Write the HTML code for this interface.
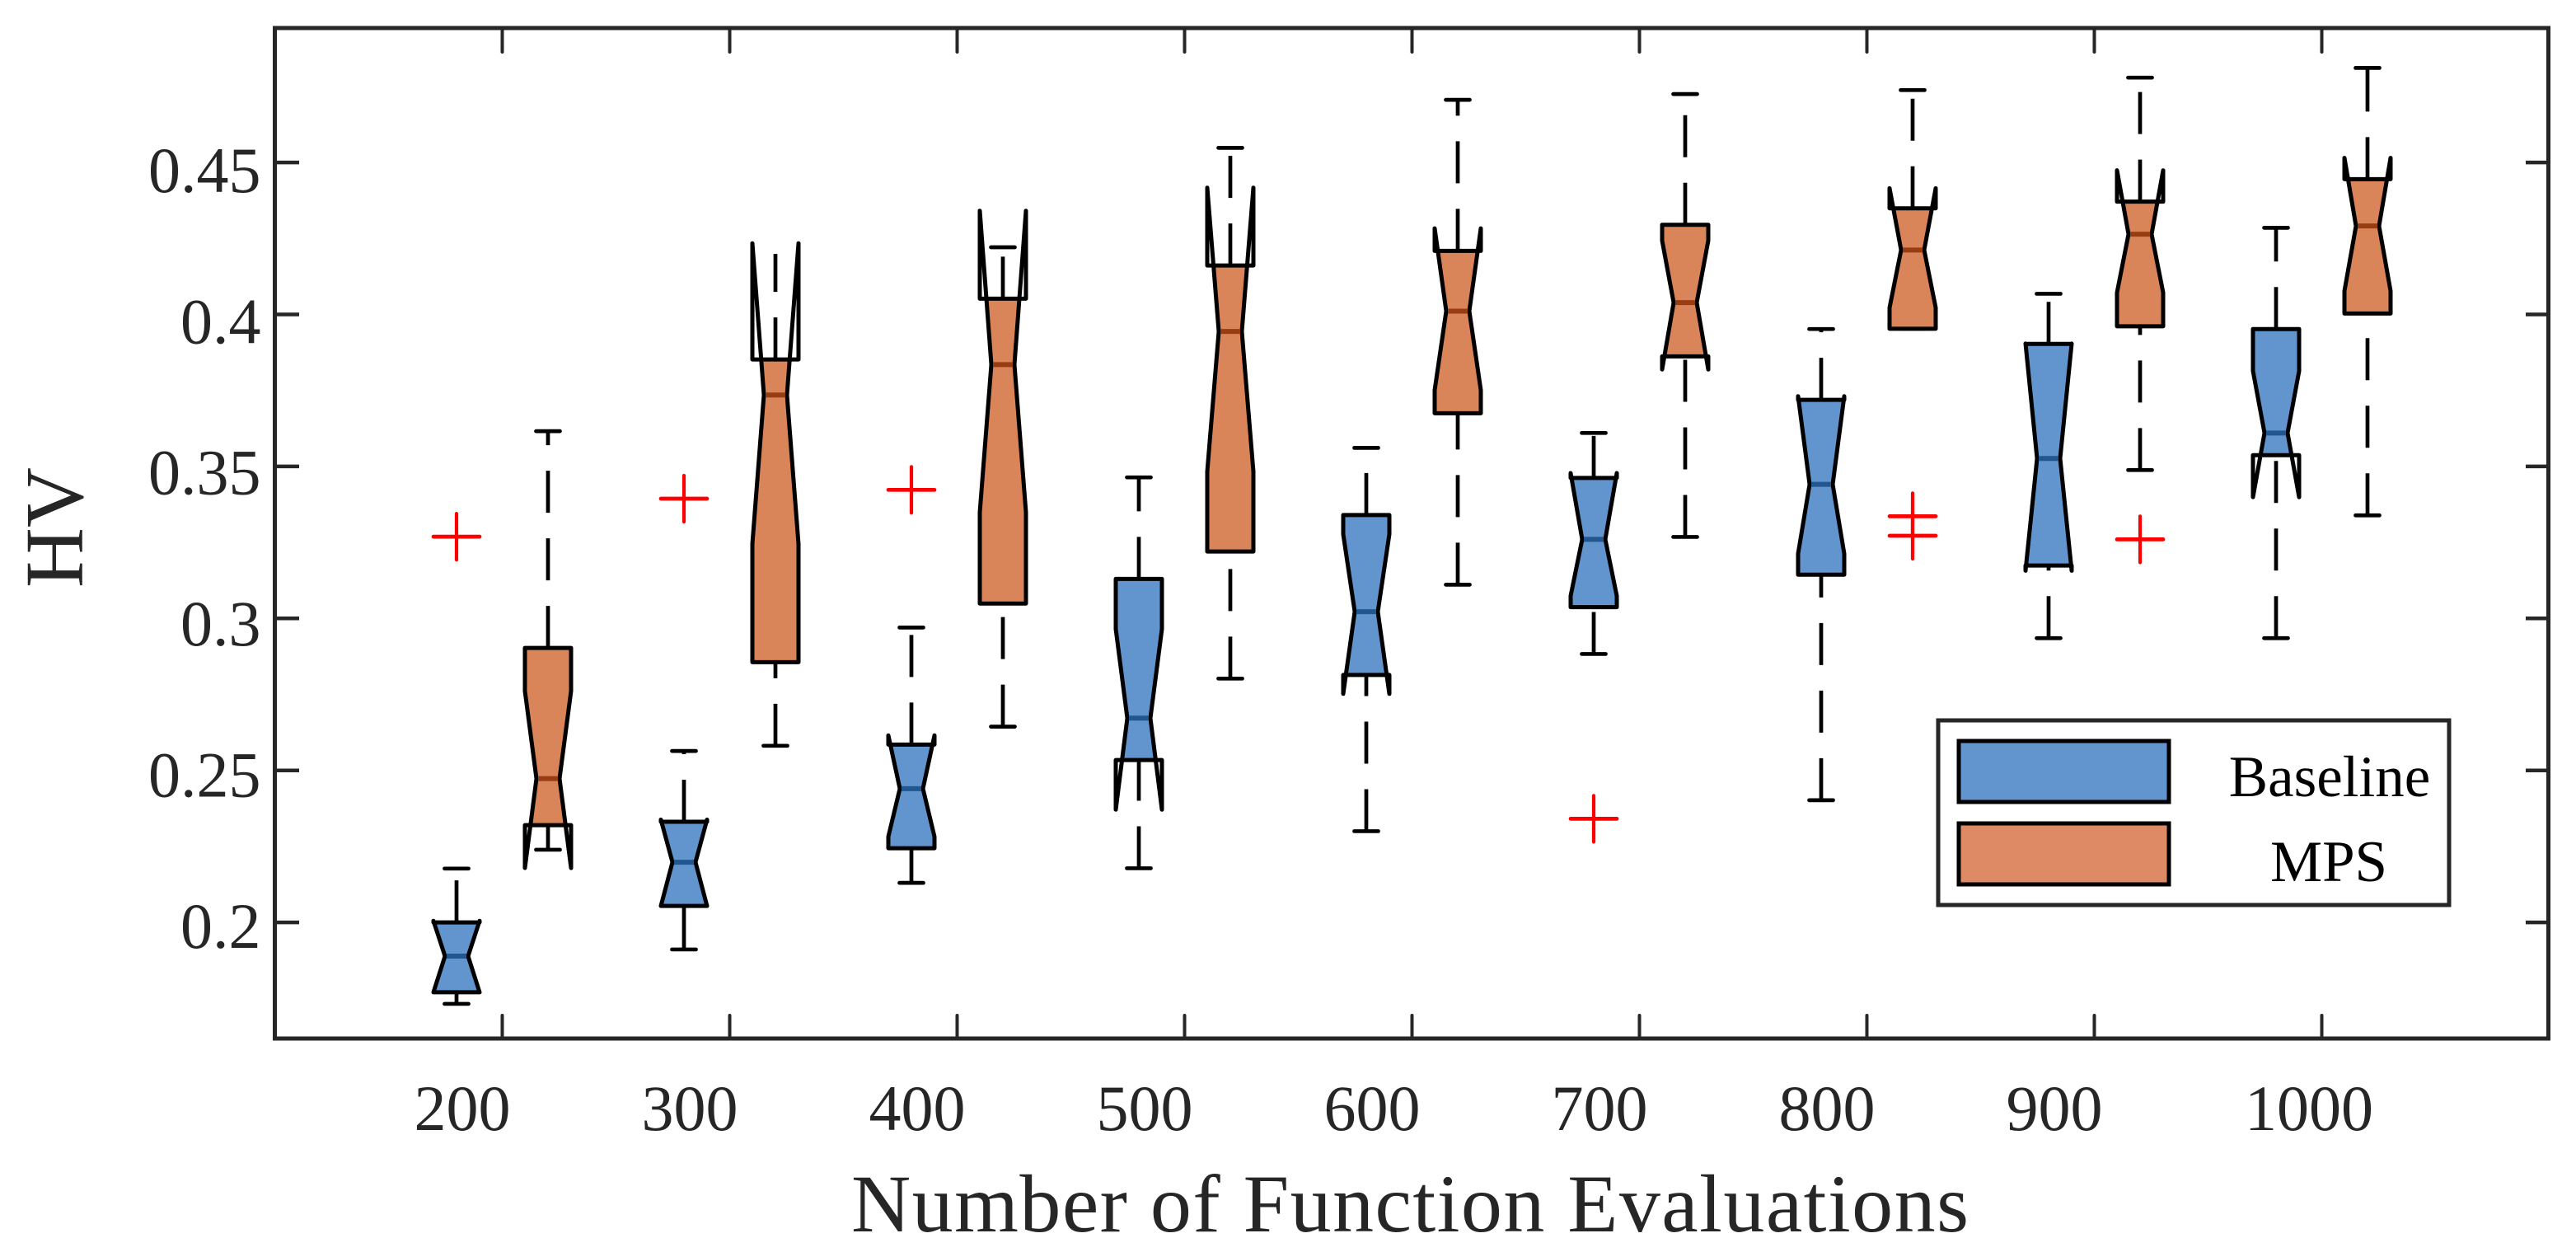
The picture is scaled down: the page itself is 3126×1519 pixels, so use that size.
<!DOCTYPE html>
<html lang="en">
<head>
<meta charset="utf-8">
<title>HV vs Number of Function Evaluations</title>
<style>
html,body{margin:0;padding:0;background:#fff;}
svg{display:block;}
text{font-family:"Liberation Serif",serif;}
</style>
</head>
<body>
<svg id="chart" xmlns="http://www.w3.org/2000/svg" width="3126" height="1519" viewBox="0 0 3126 1519">
  <rect x="0" y="0" width="3126" height="1519" fill="#fff"/>
  <g id="ticks"></g>
  <g id="marks"></g>
  <rect x="333.5" y="34" width="2759" height="1226" fill="none" stroke="#262626" stroke-width="5"/>
  <g id="labels"></g>
  <text transform="translate(100,640) rotate(-90)" text-anchor="middle" font-size="101" fill="#262626">HV</text>
  <text x="1033" y="1494" font-size="100" fill="#262626" textLength="1356" lengthAdjust="spacing">Number of Function Evaluations</text>
  <g>
    <rect x="2352" y="874" width="620" height="224" fill="#fff" stroke="#262626" stroke-width="5"/>
    <rect x="2377" y="899" width="255" height="74" fill="#6295cd" stroke="#000" stroke-width="5"/>
    <rect x="2377" y="999" width="255" height="74" fill="#dd8a65" stroke="#000" stroke-width="5"/>
    <text x="2827" y="966" text-anchor="middle" font-size="71" fill="#000">Baseline</text>
    <text x="2826" y="1069" text-anchor="middle" font-size="71" fill="#000">MPS</text>
  </g>
</svg>
<script>
// ---- data ----
const categories = ["200","300","400","500","600","700","800","900","1000"];
const yTickLabels = ["0.2","0.25","0.3","0.35","0.4","0.45"];
const yTickValues = [0.2,0.25,0.3,0.35,0.4,0.45];

const baselineWhiskerHigh = [0.2177,0.2564,0.2970,0.3464,0.3561,0.3610,0.3952,0.4068,0.4285];
const baselineQ3          = [0.2000,0.2331,0.2585,0.3130,0.3340,0.3462,0.3719,0.3903,0.3952];
const baselineNotchHigh   = [0.2005,0.2338,0.2615,0.2965,0.3277,0.3478,0.3731,0.3904,0.3814];
const baselineMedian      = [0.1889,0.2198,0.2440,0.2672,0.3022,0.3260,0.3441,0.3526,0.3610];
const baselineNotchLow    = [0.1770,0.2054,0.2282,0.2371,0.2752,0.3074,0.3213,0.3157,0.3399];
const baselineQ1          = [0.1770,0.2054,0.2244,0.2534,0.2814,0.3037,0.3144,0.3174,0.3537];
const baselineWhiskerLow  = [0.1732,0.1911,0.2130,0.2178,0.2300,0.2883,0.2402,0.2935,0.2935];
const baselineOutliers    = [[0.3269],[0.3394],[0.3423],[],[],[0.2341],[],[],[]];

const mpsWhiskerHigh = [0.3616,0.4199,0.4221,0.4548,0.4706,0.4725,0.4738,0.4779,0.4811];
const mpsQ3          = [0.2903,0.3852,0.4052,0.4161,0.4209,0.4295,0.4349,0.4371,0.4445];
const mpsNotchHigh   = [0.2761,0.4234,0.4341,0.4417,0.4283,0.4243,0.4415,0.4474,0.4515];
const mpsMedian      = [0.2473,0.3735,0.3835,0.3944,0.4011,0.4039,0.4212,0.4264,0.4291];
const mpsNotchLow    = [0.2179,0.3245,0.3349,0.3483,0.3751,0.3819,0.4022,0.4072,0.4077];
const mpsQ1          = [0.2320,0.2856,0.3049,0.3220,0.3675,0.3862,0.3953,0.3961,0.4003];
const mpsWhiskerLow  = [0.2239,0.2581,0.2644,0.2802,0.3111,0.3268,0.3953,0.3488,0.3339];
const mpsOutliers    = [[],[],[],[],[],[],[0.3336,0.3272],[0.3260],[]];
const mpsCapHidden   = [false,true,false,false,false,false,false,false,false];

// ---- axis functions ----
function yScale(v){ return 381.5 + (0.4 - v) * 3688; }
function xCenter(i){ return 609.5 + 276 * i; }
function xBaseline(i){ return xCenter(i) - 55.5; }
function xMps(i){ return xCenter(i) + 55.5; }

const NS = "http://www.w3.org/2000/svg";
function make(tag, attrs, parent){
  const el = document.createElementNS(NS, tag);
  for (const k in attrs) el.setAttribute(k, attrs[k]);
  parent.appendChild(el);
  return el;
}
const ticksG = document.getElementById("ticks");
const labelsG = document.getElementById("labels");
const marksG = document.getElementById("marks");
const TICK_COLOR = "#262626";

// x ticks: bottom and top, between the two boxes of each group
categories.forEach(function(cat, i){
  const x = xCenter(i);
  const bottom = make("line", {x1:x, x2:x, y1:1260, y2:1232, stroke:TICK_COLOR, "stroke-width":4, "stroke-linecap":"round"}, ticksG);
  
  
  const top = make("line", {x1:x, x2:x, y1:34, y2:63, stroke:TICK_COLOR, "stroke-width":4, "stroke-linecap":"round"}, ticksG);
  
  
  const lx = xBaseline(i) + (i === categories.length - 1 ? 40 : 7);
  const t = make("text", {x:lx, y:1371, "text-anchor":"middle", "font-size":78, fill:TICK_COLOR}, labelsG);
  t.textContent = cat;
  
  
});

// y ticks: left and right
yTickValues.forEach(function(v, i){
  const y = yScale(v);
  const left = make("line", {x1:333, x2:363, y1:y, y2:y, stroke:TICK_COLOR, "stroke-width":4.5}, ticksG);
  
  
  const right = make("line", {x1:3092, x2:3065, y1:y, y2:y, stroke:TICK_COLOR, "stroke-width":4.5}, ticksG);
  
  
  const t = make("text", {x:316.5, y:416.3 + (0.4 - v) * 3668, "text-anchor":"end", "font-size":78, fill:TICK_COLOR}, labelsG);
  t.textContent = yTickLabels[i];
  
  
});

const HALF_W = 28, HALF_N = 14, HALF_CAP = 14.5, OUT = 28;

function halfWidthAt(y, yNH, yMed, yNL){
  if (y <= yNH || y >= yNL) return HALF_W;
  if (y <= yMed) return HALF_W + (HALF_N - HALF_W) * (y - yNH) / (yMed - yNH);
  return HALF_N + (HALF_W - HALF_N) * (y - yMed) / (yNL - yMed);
}

function drawBox(x, q1, q3, med, nLo, nHi, wLo, wHi, fill, medColor, capHidden, groupName){
  const g = make("g", {}, marksG);
  
  
  const yQ1 = yScale(q1), yQ3 = yScale(q3), yMed = yScale(med);
  const yNL = yScale(nLo), yNH = yScale(nHi), yLo = yScale(wLo), yHi = yScale(wHi);

  // whiskers (dash pattern starts at the lower end of each segment)
  const up = make("line", {x1:x, x2:x, y1:yQ3, y2:yHi, stroke:"#000", "stroke-width":4.7, "stroke-dasharray":"51 31"}, g);
  
  
  const down = make("line", {x1:x, x2:x, y1:yLo, y2:yQ1, stroke:"#000", "stroke-width":4.7, "stroke-dasharray":"51 31"}, g);
  
  
  if (!capHidden){
    const capU = make("line", {x1:x-HALF_CAP, x2:x+HALF_CAP, y1:yHi, y2:yHi, stroke:"#000", "stroke-width":4.7, "stroke-linecap":"round"}, g);
    
    
  }
  const capL = make("line", {x1:x-HALF_CAP, x2:x+HALF_CAP, y1:yLo, y2:yLo, stroke:"#000", "stroke-width":4.7, "stroke-linecap":"round"}, g);
  
  

  // fill is limited to the Q1..Q3 band; the flared notch parts stay unfilled
  const ys = [yQ3, yNH, yMed, yNL, yQ1].filter(function(y){ return y >= yQ3 && y <= yQ1; }).sort(function(a,b){ return a-b; });
  const leftPts = ys.map(function(y){ return (x - halfWidthAt(y, yNH, yMed, yNL)) + "," + y; });
  const rightPts = ys.slice().reverse().map(function(y){ return (x + halfWidthAt(y, yNH, yMed, yNL)) + "," + y; });
  const body = make("polygon", {points:leftPts.concat(rightPts).join(" "), fill:fill}, g);
  
  

  // outline including flares
  const d = "M" + (x-HALF_W) + " " + yQ1 +
    " L" + (x-HALF_W) + " " + yNL +
    " L" + (x-HALF_N) + " " + yMed +
    " L" + (x-HALF_W) + " " + yNH +
    " L" + (x-HALF_W) + " " + yQ3 +
    " L" + (x+HALF_W) + " " + yQ3 +
    " L" + (x+HALF_W) + " " + yNH +
    " L" + (x+HALF_N) + " " + yMed +
    " L" + (x+HALF_W) + " " + yNL +
    " L" + (x+HALF_W) + " " + yQ1 + " Z";
  const outline = make("path", {d:d, fill:"none", stroke:"#000", "stroke-width":5, "stroke-linejoin":"round"}, g);
  
  

  const m = make("line", {x1:x-HALF_N+2, x2:x+HALF_N-2, y1:yMed, y2:yMed, stroke:medColor, "stroke-width":6}, g);
  
  
}

function drawOutlier(x, v){
  const y = yScale(v);
  const g = make("g", {}, marksG);
  
  
  make("line", {x1:x-OUT, x2:x+OUT, y1:y, y2:y, stroke:"#f00", "stroke-width":4.7, "stroke-linecap":"round"}, g);
  make("line", {x1:x, x2:x, y1:y-OUT, y2:y+OUT, stroke:"#f00", "stroke-width":4.2, "stroke-linecap":"round"}, g);
}

categories.forEach(function(cat, i){
  drawBox(xBaseline(i), baselineQ1[i], baselineQ3[i], baselineMedian[i], baselineNotchLow[i], baselineNotchHigh[i],
          baselineWhiskerLow[i], baselineWhiskerHigh[i], "#6295cd", "#22568f", false, "baseline-box-" + cat);
  drawBox(xMps(i), mpsQ1[i], mpsQ3[i], mpsMedian[i], mpsNotchLow[i], mpsNotchHigh[i],
          mpsWhiskerLow[i], mpsWhiskerHigh[i], "#da8459", "#983d12", mpsCapHidden[i], "mps-box-" + cat);
  baselineOutliers[i].forEach(function(v){ drawOutlier(xBaseline(i), v); });
  mpsOutliers[i].forEach(function(v){ drawOutlier(xMps(i), v); });
});
</script>
</body>
</html>
